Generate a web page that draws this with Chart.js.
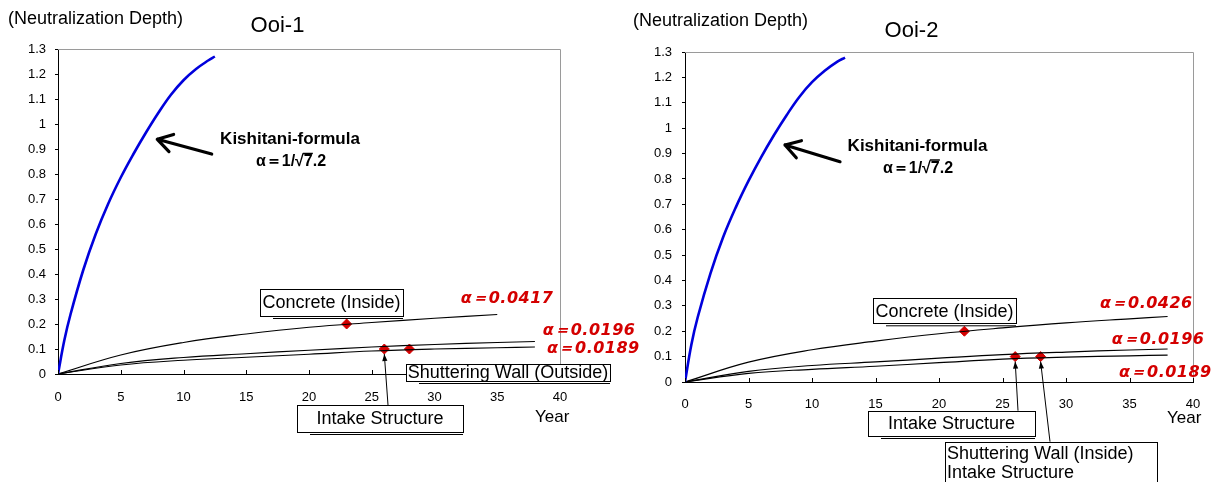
<!DOCTYPE html>
<html>
<head>
<meta charset="utf-8">
<script src="https://cdn.jsdelivr.net/npm/chart.js@4"></script>
<style>
  html, body { margin: 0; padding: 0; background: #fff; width: 1220px; height: 482px; overflow: hidden; }
  .wrap { position: absolute; top: 0; height: 482px; }
  #leftWrap { left: 0; width: 650px; }
  #rightWrap { left: 610px; width: 610px; }
</style>
</head>
<body>
<div class="wrap" id="leftWrap"><canvas id="ooi1" width="650" height="482"></canvas></div>
<div class="wrap" id="rightWrap"><canvas id="ooi2" width="610" height="482"></canvas></div>
<script>
// tick labels
const yTickLabels = ['0', '0.1', '0.2', '0.3', '0.4', '0.5', '0.6', '0.7', '0.8', '0.9', '1', '1.1', '1.2', '1.3'];
const xTickLabels = ['0', '5', '10', '15', '20', '25', '30', '35', '40'];

// Ooi-1
const kishitaniYears1 = [0, 0.5, 1, 2, 3, 4, 5, 6, 7, 8, 9, 10, 11, 12, 12.5];
const kishitaniDepth1 = [0, 0.134, 0.239, 0.414, 0.559, 0.681, 0.786, 0.879, 0.965, 1.045, 1.117, 1.175, 1.22, 1.255, 1.27];
const concreteYears1 = [0, 5, 10, 15, 20, 25, 30, 35];
const concreteDepth1 = [0, 0.076, 0.126, 0.16, 0.187, 0.206, 0.223, 0.238];
const wallYears1 = [0, 5, 10, 15, 20, 25, 30, 35, 38];
const alpha0196Depth1 = [0, 0.042, 0.066, 0.081, 0.095, 0.108, 0.118, 0.126, 0.13];
const alpha0189Depth1 = [0, 0.036, 0.055, 0.067, 0.079, 0.092, 0.1, 0.105, 0.108];
const measuredYears1 = [23, 26, 28];
const measuredDepth1 = [0.2, 0.1, 0.1];

// Ooi-2
const kishitaniYears2 = [0, 0.5, 1, 2, 3, 4, 5, 6, 7, 8, 9, 10, 11, 12, 12.6];
const kishitaniDepth2 = [0, 0.147, 0.255, 0.427, 0.57, 0.688, 0.792, 0.886, 0.972, 1.051, 1.123, 1.181, 1.226, 1.262, 1.278];
const lineYears2 = [0, 5, 10, 15, 20, 25, 30, 35, 38];
const concreteDepth2 = [0, 0.078, 0.127, 0.161, 0.19, 0.213, 0.233, 0.249, 0.258];
const alpha0196Depth2 = [0, 0.042, 0.065, 0.079, 0.094, 0.108, 0.118, 0.126, 0.13];
const alpha0189Depth2 = [0, 0.034, 0.05, 0.062, 0.076, 0.09, 0.098, 0.103, 0.106];
const measuredYears2 = [22, 26, 28];
const measuredDepth2 = [0.2, 0.1, 0.1];

const FONT = '"Liberation Sans", Arial, sans-serif';
const RED = '#d40000';

function pts(xs, ys) {
  return xs.map((x, i) => ({ x, y: ys[i] }));
}

function curve(xs, ys, color, width) {
  return {
    data: pts(xs, ys),
    showLine: true,
    borderColor: color,
    borderWidth: width,
    pointRadius: 0,
    tension: 0.4,
    fill: false,
  };
}

function drawBox(ctx, b) {
  // shadow line under the box
  ctx.strokeStyle = '#000';
  ctx.lineWidth = 1;
  ctx.beginPath();
  ctx.moveTo(b.x + 13, b.y + b.h + 2.5);
  ctx.lineTo(b.x + b.w, b.y + b.h + 2.5);
  ctx.stroke();
  ctx.fillStyle = '#fff';
  ctx.fillRect(b.x, b.y, b.w, b.h);
  ctx.strokeRect(Math.round(b.x) + 0.5, Math.round(b.y) + 0.5, Math.round(b.w), Math.round(b.h));
  ctx.fillStyle = '#000';
  ctx.font = '18px ' + FONT;
  ctx.textBaseline = 'middle';
  if (b.lines) {
    ctx.textAlign = 'left';
    b.lines.forEach((t, i) => ctx.fillText(t, b.x + 2, b.y + 12 + i * 19.5));
  } else {
    ctx.textAlign = 'center';
    ctx.fillText(b.text, b.x + b.w / 2, b.y + b.h / 2 + 1);
  }
}

function thinArrow(ctx, x0, y0, x1, y1) {
  const ang = Math.atan2(y1 - y0, x1 - x0);
  ctx.strokeStyle = '#000';
  ctx.fillStyle = '#000';
  ctx.lineWidth = 1;
  ctx.beginPath();
  ctx.moveTo(x0, y0);
  ctx.lineTo(x1, y1);
  ctx.stroke();
  ctx.beginPath();
  ctx.moveTo(x1, y1);
  ctx.lineTo(x1 - 7 * Math.cos(ang) + 2.6 * Math.sin(ang), y1 - 7 * Math.sin(ang) - 2.6 * Math.cos(ang));
  ctx.lineTo(x1 - 7 * Math.cos(ang) - 2.6 * Math.sin(ang), y1 - 7 * Math.sin(ang) + 2.6 * Math.cos(ang));
  ctx.closePath();
  ctx.fill();
}

function bigArrow(ctx, a) {
  const ang = Math.atan2(a.y1 - a.y0, a.x1 - a.x0);
  ctx.strokeStyle = '#000';
  ctx.lineWidth = 3.2;
  ctx.lineCap = 'round';
  ctx.beginPath();
  ctx.moveTo(a.x0, a.y0);
  ctx.lineTo(a.x1, a.y1);
  [0.55, -0.55].forEach((d) => {
    ctx.moveTo(a.x1, a.y1);
    ctx.lineTo(a.x1 - 17 * Math.cos(ang + d), a.y1 - 17 * Math.sin(ang + d));
  });
  ctx.stroke();
  ctx.lineCap = 'butt';
}

function redLabel(ctx, text, x, y, clipBottom) {
  ctx.save();
  if (clipBottom) {
    ctx.beginPath();
    ctx.rect(x - 5, y - 20, 120, clipBottom - (y - 20));
    ctx.clip();
  }
  ctx.fillStyle = RED;
  ctx.font = 'italic bold 16px "DejaVu Sans", ' + FONT;
  ctx.letterSpacing = '0.5px';
  ctx.textAlign = 'left';
  ctx.textBaseline = 'middle';
  ctx.fillText(text, x, y);
  ctx.restore();
}

function overlayPlugin(cfg) {
  return {
    id: 'overlay',
    afterDraw(chart) {
      const ctx = chart.ctx;
      const { chartArea: area, scales } = chart;
      ctx.save();

      // grey frame on top / right
      ctx.strokeStyle = '#9a9a9a';
      ctx.lineWidth = 1;
      ctx.beginPath();
      ctx.moveTo(area.left, Math.round(area.top) + 0.5);
      ctx.lineTo(Math.round(area.right) + 0.5, Math.round(area.top) + 0.5);
      ctx.lineTo(Math.round(area.right) + 0.5, area.bottom);
      ctx.stroke();

      // inward x ticks
      ctx.strokeStyle = '#000';
      scales.x.ticks.forEach((t, i) => {
        const px = Math.round(scales.x.getPixelForTick(i)) + 0.5;
        ctx.beginPath();
        ctx.moveTo(px, area.bottom);
        ctx.lineTo(px, area.bottom - 4);
        ctx.stroke();
      });

      // titles
      ctx.fillStyle = '#000';
      ctx.textBaseline = 'middle';
      ctx.textAlign = 'left';
      ctx.font = '18px ' + FONT;
      ctx.fillText('(Neutralization Depth)', cfg.yTitle[0], cfg.yTitle[1]);
      ctx.font = '17px ' + FONT;
      ctx.fillText('Year', cfg.xTitle[0], cfg.xTitle[1]);
      ctx.textAlign = 'center';
      ctx.font = '22px ' + FONT;
      ctx.fillText(cfg.title, cfg.titlePos[0], cfg.titlePos[1]);

      // Kishitani note
      ctx.font = 'bold 17px ' + FONT;
      ctx.fillText('Kishitani-formula', cfg.note[0], cfg.note[1]);
      const l2 = ['α＝1/√', '7.2'];
      ctx.font = 'bold 16px ' + FONT;
      const w1 = ctx.measureText(l2[0]).width;
      const w2 = ctx.measureText(l2[1]).width;
      const sx = cfg.note2[0] - (w1 + w2) / 2;
      ctx.textAlign = 'left';
      ctx.fillText(l2[0], sx, cfg.note2[1]);
      ctx.fillText(l2[1], sx + w1, cfg.note2[1]);
      ctx.lineWidth = 1.5;
      ctx.beginPath();
      ctx.moveTo(sx + w1 - 1, cfg.note2[1] - 8.5);
      ctx.lineTo(sx + w1 + 9, cfg.note2[1] - 8.5);
      ctx.stroke();
      bigArrow(ctx, cfg.arrow);

      // red alpha labels
      cfg.alphas.forEach((a) => redLabel(ctx, a.text, a.x, a.y, a.clip));

      // boxes and pointer arrows
      cfg.boxes.forEach((b) => drawBox(ctx, b));
      cfg.pointers.forEach((p) => {
        const ds = chart.data.datasets[4].data[p.idx];
        const tx = scales.x.getPixelForValue(ds.x);
        const ty = scales.y.getPixelForValue(ds.y) + 5;
        thinArrow(ctx, p.x, p.y, tx, ty);
      });
      ctx.restore();
    },
  };
}

function makeChart(id, sets, geo, cfg) {
  return new Chart(document.getElementById(id), {
    type: 'scatter',
    data: {
      datasets: [
        curve(sets.kx, sets.ky, '#0000dc', 2.6),
        curve(sets.cx, sets.cy, '#000', 1.2),
        curve(sets.wx, sets.w1, '#000', 1.2),
        curve(sets.wx, sets.w2, '#000', 1.2),
        {
          data: pts(sets.mx, sets.my),
          showLine: false,
          pointStyle: 'rectRot',
          pointRadius: 5,
          pointBackgroundColor: RED,
          pointBorderColor: RED,
          pointBorderWidth: 1,
        },
      ],
    },
    options: {
      responsive: false,
      animation: false,
      events: [],
      layout: { padding: geo.padding },
      plugins: { legend: { display: false }, tooltip: { enabled: false } },
      scales: {
        x: {
          type: 'linear',
          min: 0,
          max: 40,
          afterFit: (s) => { s.height = 30; },
          grid: { display: true, drawOnChartArea: false, drawTicks: false },
          border: { display: true, color: '#000', width: 1 },
          ticks: {
            stepSize: 5,
            padding: geo.xPad,
            color: '#000',
            maxRotation: 0,
            font: { family: FONT, size: 13 },
            callback: (v, i) => xTickLabels[i] ?? String(v),
          },
        },
        y: {
          type: 'linear',
          min: 0,
          max: 1.3,
          afterFit: (s) => { s.width = geo.yWidth; },
          grid: { display: true, drawOnChartArea: false, drawTicks: true, tickLength: 3, color: '#000' },
          border: { display: true, color: '#000', width: 1 },
          ticks: {
            stepSize: 0.1,
            padding: geo.yPad,
            color: '#000',
            font: { family: FONT, size: 13 },
            callback: (v, i) => yTickLabels[i] ?? String(v),
          },
        },
      },
    },
    plugins: [overlayPlugin(cfg)],
  });
}

makeChart(
  'ooi1',
  {
    kx: kishitaniYears1, ky: kishitaniDepth1,
    cx: concreteYears1, cy: concreteDepth1,
    wx: wallYears1, w1: alpha0196Depth1, w2: alpha0189Depth1,
    mx: measuredYears1, my: measuredDepth1,
  },
  { padding: { left: 0, right: 90, top: 49, bottom: 78 }, yWidth: 58, yPad: 9, xPad: 16 },
  {
    title: 'Ooi-1', titlePos: [277.5, 26],
    yTitle: [8, 19.5], xTitle: [535, 417],
    note: [290, 139.5], note2: [291, 162],
    arrow: { x0: 211.7, y0: 154, x1: 157.3, y1: 139.3 },
    alphas: [
      { text: 'α＝0.0417', x: 460.7, y: 299.3 },
      { text: 'α＝0.0196', x: 542.7, y: 331 },
      { text: 'α＝0.0189', x: 547, y: 349, clip: 353 },
    ],
    boxes: [
      { text: 'Concrete (Inside)', x: 260, y: 289, w: 143, h: 27 },
      { text: 'Intake Structure', x: 297, y: 405, w: 166, h: 27 },
      { text: 'Shuttering Wall (Outside)', x: 406, y: 364, w: 204, h: 17 },
    ],
    pointers: [{ idx: 1, x: 388, y: 405 }],
  }
);

makeChart(
  'ooi2',
  {
    kx: kishitaniYears2, ky: kishitaniDepth2,
    cx: lineYears2, cy: concreteDepth2,
    wx: lineYears2, w1: alpha0196Depth2, w2: alpha0189Depth2,
    mx: measuredYears2, my: measuredDepth2,
  },
  { padding: { left: 0, right: 27, top: 52, bottom: 70 }, yWidth: 75, yPad: 10, xPad: 15 },
  {
    title: 'Ooi-2', titlePos: [301.5, 31],
    yTitle: [23, 21], xTitle: [557, 418],
    note: [307.5, 146], note2: [308, 168.5],
    arrow: { x0: 230, y0: 161.7, x1: 175, y1: 145 },
    alphas: [
      { text: 'α＝0.0426', x: 490, y: 304 },
      { text: 'α＝0.0196', x: 501.7, y: 340 },
      { text: 'α＝0.0189', x: 509, y: 373.3 },
    ],
    boxes: [
      { text: 'Concrete (Inside)', x: 263, y: 298.3, w: 143, h: 25 },
      { text: 'Intake Structure', x: 258, y: 410.7, w: 167, h: 25.3 },
      { lines: ['Shuttering Wall (Inside)', 'Intake Structure'], x: 335, y: 441.7, w: 212, h: 50 },
    ],
    pointers: [
      { idx: 1, x: 408, y: 410.7 },
      { idx: 2, x: 440, y: 441.7 },
    ],
  }
);
</script>
</body>
</html>
